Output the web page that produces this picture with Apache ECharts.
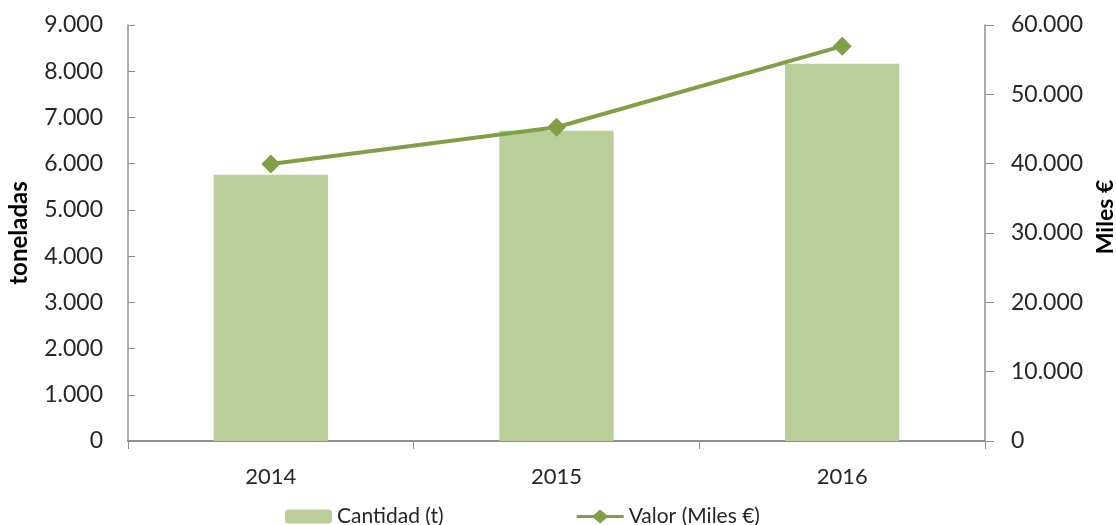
<!DOCTYPE html>
<html lang="es">
<head>
  <meta charset="UTF-8">
  <title>Cantidad y valor</title>
  <script src="https://cdn.jsdelivr.net/npm/echarts@6/dist/echarts.min.js"></script>
  <style>
    html, body { margin: 0; padding: 0; background: #fff; }
    #main { width: 1116px; height: 525px; }
  </style>
</head>
<body>
<div id="main"></div>
<script type="text/javascript">
  // datos
  var years = ['2014', '2015', '2016'];
  var cantidad = [5760, 6710, 8160];     // toneladas
  var valor = [39950, 45250, 56950];     // miles de euros

  var font = 'Lato';
  var barColor = '#b9ce98';
  var lineColor = '#80a046';
  var axisGray = '#8f8f8f';

  // icono de leyenda: linea gruesa con rombo (estilo Excel)
  var lineIcon = 'path://M0,5.5L17,5.5L23.5,0L30,5.5L47,5.5L47,8.5L30,8.5L23.5,14L17,8.5L0,8.5Z';

  function miles(v) {
    return String(v).replace(/\B(?=(\d{3})+(?!\d))/g, '.');
  }

  var myChart = echarts.init(document.getElementById('main'));

  var option = {
    animation: false,
    textStyle: { fontFamily: font },
    grid: { left: 128, right: 131, top: 25, bottom: 84, containLabel: false, outerBoundsMode: 'none' },
    legend: {
      top: 501,
      left: 280,
      itemGap: 133,
      itemWidth: 47,
      itemHeight: 14,
      textStyle: { fontFamily: font, fontSize: 21, color: '#262626' },
      data: [
        { name: 'Cantidad (t)' },
        { name: 'Valor (Miles €)', icon: lineIcon }
      ]
    },
    xAxis: {
      type: 'category',
      data: years,
      axisLine: { lineStyle: { color: axisGray, width: 2 } },
      axisTick: { show: true, alignWithLabel: false, length: 8, lineStyle: { color: axisGray } },
      axisLabel: { fontSize: 22, color: '#262626', margin: 25 }
    },
    yAxis: [
      {
        type: 'value',
        min: 0, max: 9000, interval: 1000,
        name: 'toneladas',
        nameLocation: 'middle',
        nameRotate: 90,
        nameGap: 97,
        nameTextStyle: { fontSize: 24, fontWeight: 'bold', color: '#000' },
        splitLine: { show: false },
        axisLine: { show: true, lineStyle: { color: axisGray, width: 1.5 } },
        axisTick: { show: true, inside: true, length: 7, lineStyle: { color: axisGray } },
        axisLabel: { fontSize: 23, color: '#262626', margin: 25, formatter: miles }
      },
      {
        type: 'value',
        min: 0, max: 60000, interval: 10000,
        name: 'Miles €',
        nameLocation: 'middle',
        nameRotate: 90,
        nameGap: 106,
        nameTextStyle: { fontSize: 23, fontWeight: 'bold', color: '#000', padding: [0, 0, 0, 32] },
        splitLine: { show: false },
        axisLine: { show: true, lineStyle: { color: axisGray, width: 1.5 } },
        axisTick: { show: true, length: 9, lineStyle: { color: axisGray } },
        axisLabel: { fontSize: 23, color: '#262626', margin: 26, formatter: miles }
      }
    ],
    series: [
      {
        name: 'Cantidad (t)',
        type: 'bar',
        yAxisIndex: 0,
        barWidth: '40%',
        itemStyle: { color: barColor },
        data: cantidad
      },
      {
        name: 'Valor (Miles €)',
        type: 'line',
        yAxisIndex: 1,
        symbol: 'diamond',
        symbolSize: 19,
        lineStyle: { color: lineColor, width: 4 },
        itemStyle: { color: lineColor },
        data: valor
      }
    ]
  };
  myChart.setOption(option);
</script>
</body>
</html>
